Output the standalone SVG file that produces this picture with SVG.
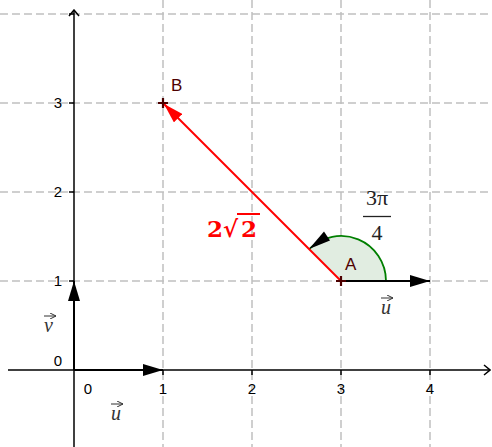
<svg xmlns="http://www.w3.org/2000/svg" width="492" height="447" viewBox="0 0 492 447">
<style>
.grid{stroke:#c0c0c0;stroke-width:1.5;stroke-dasharray:8,4;fill:none}
.axis{stroke:#000;stroke-width:1.5;fill:none}
.num{font-family:"Liberation Sans",Arial,sans-serif;font-size:15px;fill:#000}
.vec{stroke:#000;stroke-width:2;fill:none}
.vlab{font-family:"Liberation Serif","DejaVu Serif",serif;font-style:italic;font-size:20px;fill:#333}
.varr{stroke:#333;stroke-width:1;fill:none}
.pt{stroke:#4d0000;stroke-width:2.2;fill:none}
.plab{font-family:"Liberation Sans",Arial,sans-serif;font-size:17px;fill:#4d0000}
.red{font-family:"DejaVu Serif","Liberation Serif",serif;font-weight:bold;font-size:23px;fill:#ff0000}
</style>
<defs>
<marker id="tri" viewBox="0 0 20 12" refX="20" refY="6" markerWidth="20" markerHeight="12" markerUnits="userSpaceOnUse" orient="auto">
<path d="M0,0 L20,6 L0,12 Z" fill="#000"/>
</marker>
<marker id="trired" viewBox="0 0 20 12" refX="20" refY="6" markerWidth="20" markerHeight="12" markerUnits="userSpaceOnUse" orient="auto">
<path d="M0,0 L20,6 L0,12 Z" fill="#ff0000"/>
</marker>
<marker id="open" viewBox="0 0 8 12" refX="7" refY="6" markerWidth="8" markerHeight="12" markerUnits="userSpaceOnUse" orient="auto">
<path d="M1,1 L7,6 L1,11" fill="none" stroke="#000" stroke-width="1.5"/>
</marker>
<marker id="small" viewBox="0 0 6 6" refX="6" refY="3" markerWidth="6" markerHeight="6" markerUnits="userSpaceOnUse" orient="auto">
<path d="M0,0 L6,3 L0,6" fill="none" stroke="#333" stroke-width="1"/>
</marker>
</defs>
<g id="grid">
<line class="grid" x1="0" y1="14" x2="492" y2="14"/>
<line class="grid" x1="0" y1="103" x2="492" y2="103"/>
<line class="grid" x1="0" y1="192" x2="492" y2="192"/>
<line class="grid" x1="0" y1="281" x2="492" y2="281"/>
<line class="grid" x1="163" y1="0" x2="163" y2="447"/>
<line class="grid" x1="252" y1="0" x2="252" y2="447"/>
<line class="grid" x1="341" y1="0" x2="341" y2="447"/>
<line class="grid" x1="430" y1="0" x2="430" y2="447"/>
</g>
<g id="axes">
<line class="axis" x1="8" y1="370" x2="490" y2="370" marker-end="url(#open)"/>
<line class="axis" x1="74" y1="447" x2="74" y2="10" marker-end="url(#open)"/>
<path class="axis" d="M163,370v5M252,370v5M341,370v5M430,370v5M74,281h-5M74,192h-5M74,103h-5M74,14h-5"/>
<text class="num" x="88" y="394" text-anchor="middle">0</text>
<text class="num" x="163" y="394" text-anchor="middle">1</text>
<text class="num" x="252" y="394" text-anchor="middle">2</text>
<text class="num" x="341" y="394" text-anchor="middle">3</text>
<text class="num" x="430" y="394" text-anchor="middle">4</text>
<text class="num" x="62" y="366" text-anchor="end">0</text>
<text class="num" x="62" y="286" text-anchor="end">1</text>
<text class="num" x="62" y="197" text-anchor="end">2</text>
<text class="num" x="62" y="108" text-anchor="end">3</text>
</g>
<g id="sector">
<path d="M341,281 L386,281 A45,45 0 0 0 309.18,249.18 Z" fill="#e1ede1" stroke="none"/>
<path d="M386,281 A45,45 0 0 0 309.18,249.18" fill="none" stroke="#007f00" stroke-width="1.8"/>
<polygon points="309,249 330,240.5 324,231.5" fill="#000"/>
</g>
<g id="connectors">
<line class="vec" x1="74" y1="370" x2="163" y2="370" marker-end="url(#tri)"/>
<line class="vec" x1="74" y1="370" x2="74" y2="281" marker-end="url(#tri)"/>
<line class="vec" x1="341" y1="281" x2="430" y2="281" marker-end="url(#tri)"/>
<line x1="341" y1="281" x2="164" y2="104" stroke="#ff0000" stroke-width="2" marker-end="url(#trired)"/>
</g>
<g id="labels">
<text class="vlab" x="111" y="420">u</text>
<line class="varr" x1="111" y1="404" x2="123" y2="404" marker-end="url(#small)"/>
<text class="vlab" x="44" y="332">v</text>
<line class="varr" x1="44" y1="316" x2="56" y2="316" marker-end="url(#small)"/>
<text class="vlab" x="381" y="314">u</text>
<line class="varr" x1="381" y1="298" x2="393" y2="298" marker-end="url(#small)"/>
<text x="377" y="205" text-anchor="middle" font-family="'Liberation Serif','DejaVu Serif',serif" font-size="22" fill="#222">3π</text>
<line x1="363" y1="216.5" x2="391" y2="216.5" stroke="#222" stroke-width="1.3"/>
<text x="377" y="240" text-anchor="middle" font-family="'Liberation Serif','DejaVu Serif',serif" font-size="22" fill="#222">4</text>
<text class="red" x="207" y="237">2√</text>
<text class="red" x="241" y="237">2</text>
<line x1="237" y1="214" x2="260" y2="214" stroke="#ff0000" stroke-width="2"/>
</g>
<g id="A">
<path class="pt" d="M336,281h10M341,276v10"/>
<text class="plab" x="345" y="270">A</text>
</g>
<g id="B">
<path class="pt" d="M158,103h10M163,98v10"/>
<text class="plab" x="171" y="91">B</text>
</g>
</svg>
